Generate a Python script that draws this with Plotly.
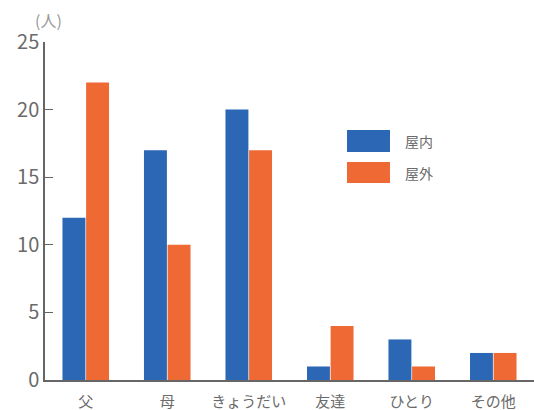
import plotly.graph_objects as go

categories = ["父", "母", "きょうだい", "友達", "ひとり", "その他"]
indoor = [12, 17, 20, 1, 3, 2]
outdoor = [22, 10, 17, 4, 1, 2]
series_names = ["屋内", "屋外"]
y_ticks = [0, 5, 10, 15, 20, 25]

BLUE = "#2b67b4"
ORANGE = "#ef6934"
GRAY = "#6a6a6a"
FONT = "Noto Sans CJK JP"

fig = go.Figure()
fig.add_trace(go.Bar(x=categories, y=indoor, name=series_names[0],
                     marker=dict(color=BLUE, line=dict(width=0)), showlegend=False))
fig.add_trace(go.Bar(x=categories, y=outdoor, name=series_names[1],
                     marker=dict(color=ORANGE, line=dict(width=0)), showlegend=False))

# custom legend (boxes + labels)
for (y0, y1, yc, col, name) in [(0.6746, 0.7396, 0.707, BLUE, series_names[0]),
                                (0.5828, 0.645, 0.6124, ORANGE, series_names[1])]:
    fig.add_shape(type="rect", xref="paper", yref="paper", x0=0.6176, x1=0.7055,
                  y0=y0, y1=y1, fillcolor=col, line=dict(width=0))
    fig.add_annotation(xref="paper", yref="paper", x=0.732, y=yc, text=name,
                       showarrow=False, xanchor="left", yanchor="middle",
                       font=dict(family=FONT, size=14, color=GRAY))

fig.add_annotation(xref="paper", yref="paper", x=0, y=1, text="(人)", showarrow=False,
                   xanchor="left", yanchor="bottom", xshift=-12, yshift=8,
                   font=dict(family=FONT, size=16, color="#999999"))

fig.update_layout(
    width=534, height=410,
    margin=dict(l=45, r=0, t=42, b=30),
    paper_bgcolor="white", plot_bgcolor="white",
    barmode="group", bargap=0.42, bargroupgap=0.03,
    font=dict(family=FONT, color=GRAY),
    xaxis=dict(showline=True, linecolor="#666666", linewidth=1.5, ticks="",
               tickfont=dict(size=15, color=GRAY), ticklabelstandoff=7,
               showgrid=False, zeroline=False),
    yaxis=dict(range=[0, 25], tickvals=y_ticks, showline=True, linecolor="#666666",
               linewidth=1.5, ticks="inside", ticklen=8, tickcolor="#666666",
               tickfont=dict(size=20, color=GRAY), showgrid=False, zeroline=False),
)

fig.write_html("out.html")
